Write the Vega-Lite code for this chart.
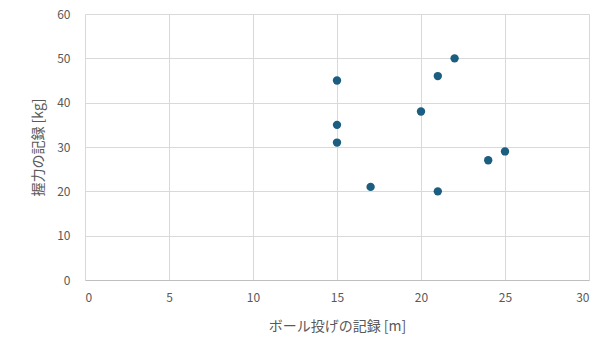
{
  "$schema": "https://vega.github.io/schema/vega-lite/v6.json",
  "width": 504,
  "height": 266,
  "autosize": {"type": "none"},
  "padding": {"left": 85, "top": 14, "right": 25, "bottom": 82},
  "background": "white",
  "config": {
    "view": {"stroke": null},
    "font": "Noto Sans CJK JP"
  },
  "data": {
    "values": [
      {"x": 15, "y": 45},
      {"x": 15, "y": 35},
      {"x": 15, "y": 31},
      {"x": 17, "y": 21},
      {"x": 20, "y": 38},
      {"x": 21, "y": 46},
      {"x": 21, "y": 20},
      {"x": 22, "y": 50},
      {"x": 24, "y": 27},
      {"x": 25, "y": 29}
    ]
  },
  "mark": {"type": "circle", "size": 70, "color": "#1b5e80", "opacity": 1},
  "encoding": {
    "x": {
      "field": "x", "type": "quantitative",
      "scale": {"domain": [0, 30], "nice": false, "zero": true},
      "axis": {
        "title": "ボール投げの記録 [m]",
        "values": [0, 5, 10, 15, 20, 25, 30],
        "grid": true, "gridColor": "#d9d9d9", "gridWidth": 1,
        "domain": true, "domainColor": "#bfbfbf", "domainWidth": 1,
        "ticks": false,
        "labelColor": "#595959", "labelFontSize": 12, "labelPadding": 12,
        "titleColor": "#595959", "titleFontSize": 14, "titleFontWeight": "normal", "titlePadding": 16
      }
    },
    "y": {
      "field": "y", "type": "quantitative",
      "scale": {"domain": [0, 60], "nice": false},
      "axis": {
        "title": "握力の記録 [kg]",
        "values": [0, 10, 20, 30, 40, 50, 60],
        "grid": true, "gridColor": "#d9d9d9", "gridWidth": 1,
        "domain": false,
        "ticks": false,
        "labelColor": "#595959", "labelFontSize": 12, "labelPadding": 15,
        "titleColor": "#595959", "titleFontSize": 14, "titleFontWeight": "normal", "titlePadding": 11
      }
    }
  }
}
